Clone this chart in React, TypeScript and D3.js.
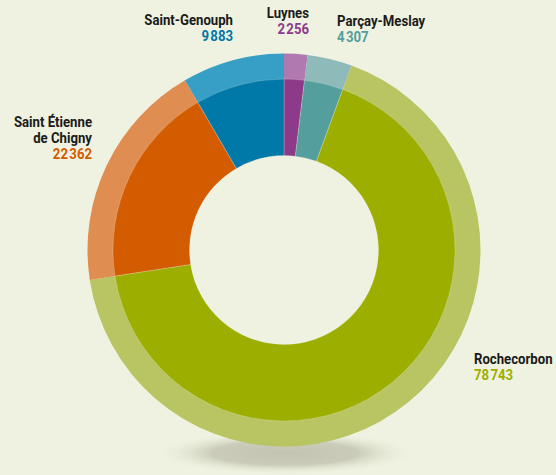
import React from "react";
import * as d3 from "d3";

const communes = ["Luynes", "Parçay-Meslay", "Rochecorbon", "Saint Étienne de Chigny", "Saint-Genouph"];
const values = [2256, 4307, 78743, 22362, 9883];
const lightColors = ["#b07ab0", "#8fbaba", "#b9c563", "#e08d52", "#379fc5"];
const darkColors = ["#8e3a8a", "#549e9e", "#9caf00", "#d35b00", "#0079a8"];
const labelLines = [["Luynes"], ["Parçay-Meslay"], ["Rochecorbon"], ["Saint Étienne", "de Chigny"], ["Saint-Genouph"]];
const labelAnchors = [
  { x: 309, y: 18, anchor: "end" },
  { x: 337, y: 26, anchor: "start" },
  { x: 474, y: 364, anchor: "start" },
  { x: 92, y: 127, anchor: "end" },
  { x: 233, y: 25, anchor: "end" },
];

const W = 556, H = 475;
const cx = 284, cy = 250;
const rOuter = 196.5, rMid = 171, rInner = 94.5;
const BG = "#eff2e0";
const FONT = "Roboto, 'Liberation Sans', sans-serif";
const SX = 0.85;

const fmt = (v: number) => {
  const s = String(v);
  return s.length > 3 ? s.slice(0, s.length - 3) + "\u200A" + s.slice(s.length - 3) : s;
};

export default function App() {
  const pie = d3.pie<number>().sort(null).value((d) => d);
  const arcs = pie(values);
  const outerArc = d3.arc<d3.PieArcDatum<number>>().innerRadius(rMid - 2).outerRadius(rOuter);
  const innerArc = d3.arc<d3.PieArcDatum<number>>().innerRadius(rInner).outerRadius(rMid);
  return (
    <svg width={W} height={H} style={{ position: "absolute", left: 0, top: 0, background: BG }}>
      <defs>
        <radialGradient id="shadow" cx="50%" cy="50%" r="50%">
          <stop offset="0%" stopColor="#c2c4b1" stopOpacity={1} />
          <stop offset="55%" stopColor="#c6c8b5" stopOpacity={0.9} />
          <stop offset="100%" stopColor={BG} stopOpacity={0} />
        </radialGradient>
      </defs>
      <rect width={W} height={H} fill={BG} />
      <ellipse cx={285} cy={453} rx={132} ry={22} fill="url(#shadow)" />
      <g transform={`translate(${cx},${cy})`}>
        {arcs.map((a, i) => (
          <path key={"o" + i} d={outerArc(a) || ""} fill={lightColors[i]} />
        ))}
        {arcs.map((a, i) => (
          <path key={"i" + i} d={innerArc(a) || ""} fill={darkColors[i]} stroke={BG} strokeWidth={0.4} strokeOpacity={0.6} />
        ))}
      </g>
      {communes.map((c, i) => {
        const p = labelAnchors[i];
        const lines = labelLines[i];
        return (
          <g key={c} transform={`translate(${p.x},${p.y}) scale(${SX},1)`}>
            <text x={0} y={0} textAnchor={p.anchor as any} fontFamily={FONT} fontWeight="bold" fontSize={15.5}>
              {lines.map((l, j) => (
                <tspan key={j} x={0} dy={j === 0 ? 0 : 16} fill="#1a1a1a">{l}</tspan>
              ))}
              <tspan x={0} dy={16.5} fill={darkColors[i]}>{fmt(values[i])}</tspan>
            </text>
          </g>
        );
      })}
    </svg>
  );
}
